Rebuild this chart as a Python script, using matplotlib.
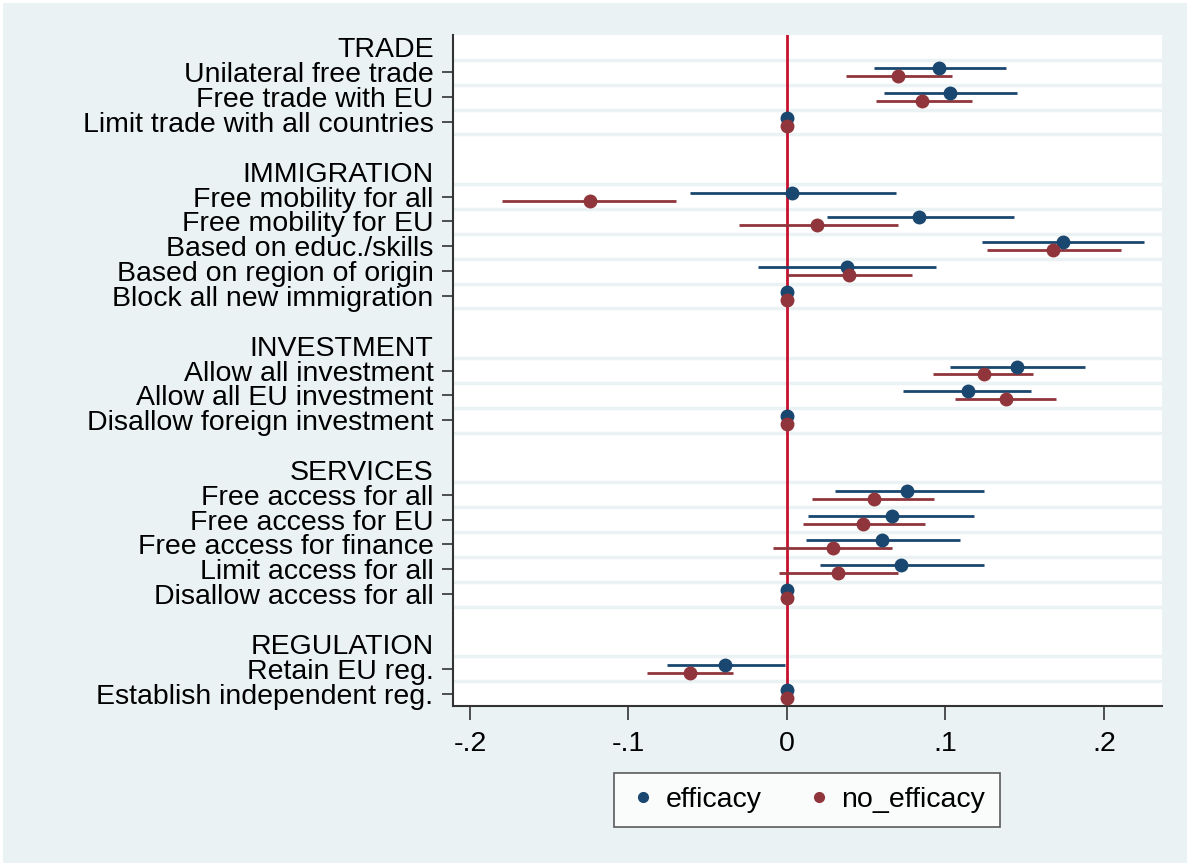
import matplotlib
matplotlib.use('Agg')
import numpy as np
import matplotlib.pyplot as plt
from matplotlib.lines import Line2D
from matplotlib.patches import Rectangle

plt.rcParams['font.family'] = ['Liberation Sans', 'DejaVu Sans']

# rows: group headers and spacer rows have no estimate (None)
labels = ['TRADE', 'Unilateral free trade', 'Free trade with EU', 'Limit trade with all countries', '',
          'IMMIGRATION', 'Free mobility for all', 'Free mobility for EU', 'Based on educ./skills',
          'Based on region of origin', 'Block all new immigration', '',
          'INVESTMENT', 'Allow all investment', 'Allow all EU investment', 'Disallow foreign investment', '',
          'SERVICES', 'Free access for all', 'Free access for EU', 'Free access for finance',
          'Limit access for all', 'Disallow access for all', '',
          'REGULATION', 'Retain EU reg.', 'Establish independent reg.']
headers = ['TRADE', 'IMMIGRATION', 'INVESTMENT', 'SERVICES', 'REGULATION']

eff_b  = [None, 0.096, 0.103, 0.0, None, None, 0.003, 0.083, 0.174, 0.038, 0.0, None,
          None, 0.145, 0.114, 0.0, None, None, 0.076, 0.066, 0.060, 0.072, 0.0, None,
          None, -0.039, 0.0]
eff_lo = [None, 0.055, 0.061, 0.0, None, None, -0.061, 0.025, 0.123, -0.018, 0.0, None,
          None, 0.103, 0.073, 0.0, None, None, 0.030, 0.013, 0.012, 0.021, 0.0, None,
          None, -0.076, 0.0]
eff_hi = [None, 0.138, 0.145, 0.0, None, None, 0.069, 0.143, 0.225, 0.094, 0.0, None,
          None, 0.188, 0.154, 0.0, None, None, 0.124, 0.118, 0.109, 0.124, 0.0, None,
          None, -0.001, 0.0]

noe_b  = [None, 0.070, 0.085, 0.0, None, None, -0.124, 0.019, 0.168, 0.039, 0.0, None,
          None, 0.124, 0.138, 0.0, None, None, 0.055, 0.048, 0.029, 0.032, 0.0, None,
          None, -0.061, 0.0]
noe_lo = [None, 0.037, 0.056, 0.0, None, None, -0.180, -0.030, 0.126, 0.0, 0.0, None,
          None, 0.092, 0.106, 0.0, None, None, 0.016, 0.010, -0.009, -0.005, 0.0, None,
          None, -0.088, 0.0]
noe_hi = [None, 0.104, 0.117, 0.0, None, None, -0.070, 0.070, 0.211, 0.079, 0.0, None,
          None, 0.155, 0.170, 0.0, None, None, 0.093, 0.087, 0.066, 0.070, 0.0, None,
          None, -0.034, 0.0]

xticks = [-0.2, -0.1, 0, 0.1, 0.2]
xticklabels = ['-.2', '-.1', '0', '.1', '.2']

blue = '#1a476f'
red = '#90353b'
bg = '#eaf2f3'
fs = 20.5

fig = plt.figure(figsize=(11.87, 8.63), dpi=100)
fig.patch.set_facecolor('white')
fig.patches.append(Rectangle((3 / 1187, 0), 1 - 3 / 1187, 1 - 3 / 863, transform=fig.transFigure,
                             facecolor=bg, edgecolor='none', zorder=-10))
ax = fig.add_axes([453 / 1187, 1 - 706 / 863, (1162 - 453) / 1187, (706 - 35) / 863])
ax.set_facecolor('white')

n = len(labels)

# light grid lines between rows (not around the spacer/header gap)
for i in range(n - 1):
    a, b = labels[i], labels[i + 1]
    if b in headers:
        continue
    if b == '' and a == '':
        continue
    ax.axhline(i + 0.5, color=bg, lw=2.5, zorder=0)

ax.axvline(0, color='#c8102e', lw=2.0, zorder=1)

off = 0.16
for i in range(n):
    if eff_b[i] is None:
        continue
    ax.plot([eff_lo[i], eff_hi[i]], [i - off, i - off], color=blue, lw=2.0, zorder=2, solid_capstyle='butt')
    ax.plot(eff_b[i], i - off, 'o', color=blue, ms=9, zorder=3)
    ax.plot([noe_lo[i], noe_hi[i]], [i + off, i + off], color=red, lw=2.0, zorder=2, solid_capstyle='butt')
    ax.plot(noe_b[i], i + off, 'o', color=red, ms=9, zorder=3)

ax.set_xlim(-0.2107, 0.2366)
ax.set_ylim(n - 0.5, -0.5)

tick_rows = [i for i in range(n) if labels[i] != '']
ax.set_yticks(tick_rows)
ax.set_yticklabels([labels[i] for i in tick_rows], fontsize=fs)
ax.tick_params(axis='y', length=8, width=1.2, pad=6, color='#333333')
for t, i in zip(ax.yaxis.get_major_ticks(), tick_rows):
    if labels[i] in headers:
        t.tick1line.set_visible(False)

ax.set_xticks(xticks)
ax.set_xticklabels(xticklabels, fontsize=fs)
ax.tick_params(axis='x', length=10, width=1.2, pad=8, color='#333333')

for s in ['top', 'right']:
    ax.spines[s].set_visible(False)
for s in ['left', 'bottom']:
    ax.spines[s].set_color('#333333')
    ax.spines[s].set_linewidth(1.5)

handles = [Line2D([], [], marker='o', ls='none', color=blue, ms=7),
           Line2D([], [], marker='o', ls='none', color=red, ms=7)]
leg = fig.legend(handles, ['efficacy', 'no_efficacy'], ncol=2, loc='center',
                 bbox_to_anchor=(807 / 1187, 1 - 800 / 863), fontsize=fs, frameon=True,
                 fancybox=False, edgecolor='#333333', handletextpad=0.3, columnspacing=1.5,
                 borderpad=0.5, handlelength=1.0)
leg.get_frame().set_linewidth(1.2)

fig.savefig('out.png', dpi=100, facecolor=fig.get_facecolor())
